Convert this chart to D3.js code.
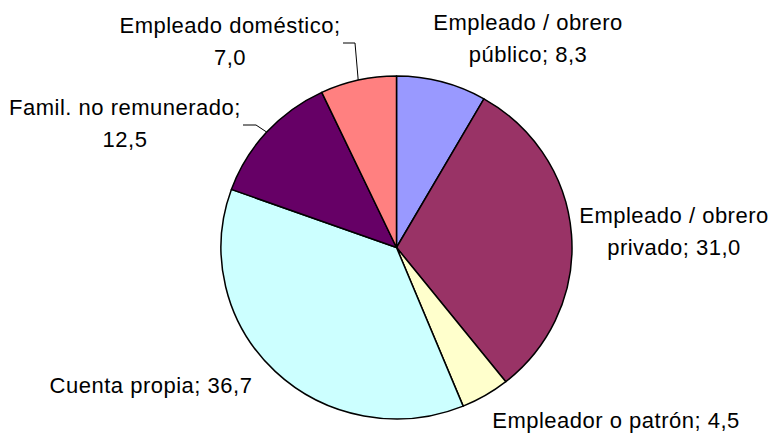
<!DOCTYPE html>
<html>
<head>
<meta charset="utf-8">
<script src="https://cdn.jsdelivr.net/npm/d3@7"></script>
<style>
  body { margin: 0; background: #fff; }
  svg text { font-family: "Liberation Sans", Arial, sans-serif; font-size: 22px; fill: #000; }
</style>
</head>
<body>
<svg id="chart" width="773" height="434"></svg>
<script>
// Data, clockwise from 12 o'clock
var categories = ["Empleado / obrero público", "Empleado / obrero privado", "Empleador o patrón",
                  "Cuenta propia", "Famil. no remunerado", "Empleado doméstico"];
var values = [8.3, 31.0, 4.5, 36.7, 12.5, 7.0];
var valueLabels = ["8,3", "31,0", "4,5", "36,7", "12,5", "7,0"];

// label lines (text split the way the chart shows it)
var labelLines = [
  ["Empleado / obrero", "público; 8,3"],
  ["Empleado / obrero", "privado; 31,0"],
  ["Empleador o patrón; 4,5"],
  ["Cuenta propia; 36,7"],
  ["Famil. no remunerado;", "12,5"],
  ["Empleado doméstico;", "7,0"]
];

var colors = ["#9999FF", "#993366", "#FFFFCC", "#CCFFFF", "#660066", "#FF8080"];

// layout
var cx = 396.5, cy = 247.5, rx = 175.5, ry = 171.5;
var labelPos = [[528, 30], [674, 223], [616, 428], [151, 393], [125, 115], [230, 33]];
var lineHeight = 31.5;
// leader lines for the two small labels on the upper left: [label end x, y]
var leaders = {4: [243, 125], 5: [343, 43]};

var svg = d3.select("#chart");

var pie = d3.pie().sort(null).value(function(d) { return d; });
var arcs = pie(values);

var arc = d3.arc().innerRadius(0).outerRadius(rx);

var g = svg.append("g")
  .attr("transform", "translate(" + cx + "," + cy + ") scale(1," + (ry / rx) + ")");

g.selectAll("path")
  .data(arcs)
  .enter()
  .append("path")
  .attr("d", arc)
  .attr("fill", function(d, i) { return colors[i]; })
  .attr("stroke", "#000")
  .attr("stroke-width", 1.5)
  .attr("stroke-linejoin", "round")
  .style("vector-effect", "non-scaling-stroke");

// leader lines
Object.keys(leaders).forEach(function(k) {
  var a = arcs[k];
  var mid = (a.startAngle + a.endAngle) / 2;
  var ex = cx + rx * Math.sin(mid), ey = cy - ry * Math.cos(mid);
  var sx = leaders[k][0], sy = leaders[k][1];
  var kx = k == 5 ? sx + 12 : sx + 13;
  svg.append("polyline")
    .attr("points", [[sx, sy], [kx, sy], [ex, ey]].map(function(p) { return p.join(","); }).join(" "))
    .attr("fill", "none")
    .attr("stroke", "#000")
    .attr("stroke-width", 1);
});

// labels
labelLines.forEach(function(lines, i) {
  var t = svg.append("text")
    .attr("text-anchor", "middle")
    .attr("letter-spacing", "0.5px");
  lines.forEach(function(s, j) {
    t.append("tspan")
      .attr("x", labelPos[i][0])
      .attr("y", labelPos[i][1] + j * lineHeight)
      .text(s);
  });
});
</script>
</body>
</html>
